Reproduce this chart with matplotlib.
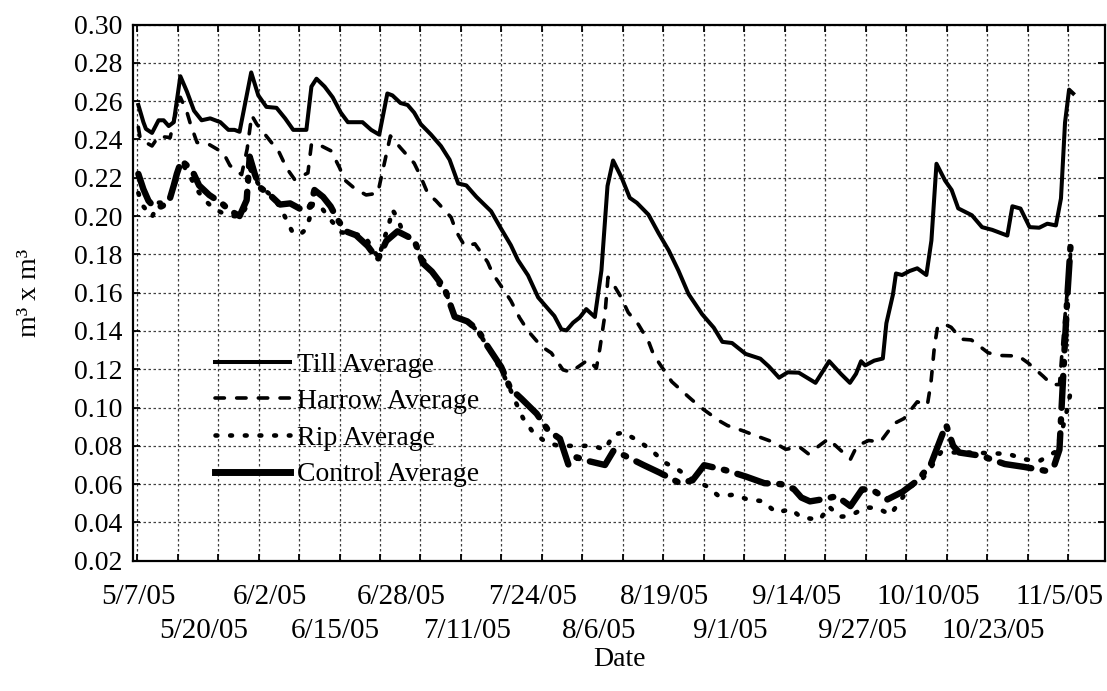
import matplotlib
matplotlib.use("Agg")
import matplotlib.pyplot as plt
from matplotlib.lines import Line2D
import numpy as np
import pandas as pd

# days after 5/7/05 and volumetric water content
till_day = [0, 1, 1.5, 2.7, 4, 5, 6, 7, 8.3, 9.6, 11, 12.5, 14.2, 16.2, 17.8, 19, 20,
            22.3, 23.7, 25.3, 27.3, 29, 30.6, 33.2, 34.2, 35.2, 36.8, 38.4, 40, 41.4,
            44.3, 46, 47.6, 49.2, 50.2, 51.8, 53.2, 54.5, 55.8, 57.8, 59.8, 61.5, 63.2,
            64.8, 66.8, 69.7, 71.6, 73.6, 75, 77, 79, 81, 82.2, 83.6, 84.6, 85.9, 87.2,
            88.5, 90.2, 91.5, 92.7, 93.8, 95.5, 97.1, 98.5, 100.8, 102.8, 104.8, 106.7,
            108.7, 111.4, 113.7, 115.4, 117.3, 120, 122.9, 124.6, 126.6, 128.3, 130.5,
            133.8, 136.5, 138.8, 140.6, 141.8, 142.8, 143.6, 145.4, 147.1, 147.8, 149.1,
            149.7, 150.9, 152.4, 153.9, 155.7, 156.7, 157.7, 159.4, 160.7, 162, 164.7,
            166.7, 168.7, 171.7, 172.7, 174.3, 176.1, 178, 179.6, 181.3, 182.3, 183.1,
            183.9, 184.7]
till_avg = [0.258, 0.249, 0.2455, 0.2434, 0.250, 0.250, 0.247, 0.249, 0.273, 0.265, 0.255,
            0.250, 0.251, 0.249, 0.245, 0.245, 0.244, 0.275, 0.263, 0.257, 0.2565, 0.251,
            0.245, 0.245, 0.2676, 0.2717, 0.2676, 0.262, 0.254, 0.249, 0.249, 0.245,
            0.2425, 0.264, 0.263, 0.259, 0.258, 0.254, 0.248, 0.2426, 0.2365, 0.2294,
            0.217, 0.216, 0.210, 0.2025, 0.1937, 0.1848, 0.177, 0.169, 0.1575, 0.1514,
            0.1478, 0.1408, 0.1403, 0.1443, 0.147, 0.1514, 0.1473, 0.1716, 0.2157, 0.229,
            0.220, 0.2095, 0.2069, 0.2007, 0.191, 0.182, 0.1716, 0.1593, 0.1487, 0.1417,
            0.1343, 0.1337, 0.128, 0.1255, 0.1214, 0.1156, 0.1184, 0.1182, 0.1129, 0.1242,
            0.1176, 0.1129, 0.1176, 0.1242, 0.122, 0.1245, 0.1256, 0.144, 0.159, 0.170,
            0.1692, 0.1713, 0.1727, 0.1692, 0.1872, 0.2273, 0.2185, 0.2136, 0.204, 0.2004,
            0.1942, 0.1928, 0.1898, 0.2051, 0.2039, 0.1942, 0.1939, 0.196, 0.1951, 0.2092,
            0.2488, 0.266, 0.264]

harrow_day = [0, 0.4, 2.7, 4, 6.3, 7, 8.3, 9.6, 10.3, 11.6, 13.9, 16.8, 18.1, 20.4, 21.5,
              22.4, 23.4, 26.3, 27.6, 29.3, 30.9, 33.5, 34.2, 35.5, 38.1, 39.8, 40.7, 42.7,
              45, 47.3, 49.8, 51.8, 54.5, 55.8, 57.2, 58.8, 61.8, 62.8, 64.5, 66.5, 69, 70,
              72.3, 73.6, 75.3, 77, 79.6, 81.6, 83.9, 85.6, 86.5, 88.9, 90.5, 91.2, 92.2,
              92.8, 93.8, 95.2, 96.8, 98.8, 100.8, 101.8, 103.8, 105.4, 108.7, 111, 114.7,
              116.4, 119.3, 122, 125.6, 127.9, 130.7, 132.4, 135, 136.4, 137.4, 140.7, 142,
              144.3, 146.6, 149.3, 151.3, 153.9, 155.9, 156.6, 157.3, 157.9, 159.3, 160.6,
              162.6, 164.6, 167.9, 170.2, 173.9, 175.8, 178.8, 180.5, 182, 183, 184.2]
harrow_avg = [0.2464, 0.240, 0.2366, 0.2416, 0.241, 0.250, 0.262, 0.2543, 0.248, 0.2384,
              0.2375, 0.233, 0.2264, 0.2216, 0.235, 0.2526, 0.248, 0.2384, 0.2345, 0.225,
              0.219, 0.2225, 0.2375, 0.2375, 0.234, 0.225, 0.219, 0.2145, 0.211, 0.2119,
              0.2418, 0.2356, 0.2276, 0.2205, 0.2117, 0.208, 0.1993, 0.192, 0.1843, 0.1855,
              0.176, 0.170, 0.161, 0.1558, 0.147, 0.140, 0.132, 0.1285, 0.1197, 0.1184,
              0.1205, 0.125, 0.1205, 0.131, 0.1487, 0.168, 0.1646, 0.1584, 0.1496, 0.1434,
              0.1346, 0.1276, 0.1197, 0.1135, 0.1056, 0.1003, 0.0932, 0.0906, 0.088, 0.0853,
              0.0818, 0.0782, 0.0793, 0.0758, 0.081, 0.0837, 0.081, 0.073, 0.080, 0.0828,
              0.082, 0.0916, 0.0943, 0.103, 0.1013, 0.1128, 0.132, 0.1419, 0.1436, 0.1419,
              0.1357, 0.1353, 0.1286, 0.1272, 0.1269, 0.1233, 0.1163, 0.112, 0.112, 0.145,
              0.180]

rip_day = [0, 1, 2.7, 4, 5.7, 7, 8.3, 10, 11.5, 12.9, 14.8, 16.3, 17.8, 20.1, 21.4, 22, 23,
           24, 25.7, 27.3, 29, 30.3, 31.8, 33.2, 33.9, 34.5, 36, 38, 40.1, 42.4, 44.7, 46,
           47.5, 48.5, 49.5, 50.2, 51.2, 52.5, 54.5, 56, 57.8, 58.8, 60.5, 62.5, 65.1, 67,
           69, 72, 73.4, 74.7, 76, 78, 80.6, 83, 85, 87.9, 89.9, 92.2, 93.9, 95.9, 98.8,
           101.5, 103.8, 106.8, 109.1, 112.4, 114.7, 117.7, 120.4, 123.4, 126, 129, 131,
           134.7, 136.4, 138.5, 140, 141.7, 143.7, 146, 148.6, 151, 152.3, 154.9, 156.6,
           158.6, 162, 165, 168.5, 171.9, 175, 178, 181.1, 182.2, 183.2, 184.2]
rip_avg = [0.212, 0.205, 0.1995, 0.207, 0.207, 0.214, 0.2287, 0.222, 0.214, 0.209, 0.204,
           0.202, 0.2004, 0.1995, 0.205, 0.225, 0.220, 0.2154, 0.212, 0.2074, 0.1995, 0.1924,
           0.190, 0.1933, 0.1995, 0.2066, 0.205, 0.198, 0.1915, 0.1906, 0.1897, 0.184, 0.178,
           0.1876, 0.1955, 0.2033, 0.199, 0.190, 0.1876, 0.178, 0.1727, 0.1658, 0.162, 0.148,
           0.1448, 0.140, 0.132, 0.118, 0.110, 0.102, 0.0945, 0.087, 0.0818, 0.080, 0.080,
           0.080, 0.080, 0.078, 0.086, 0.0869, 0.0826, 0.0775, 0.0716, 0.0673, 0.063, 0.0588,
           0.0537, 0.0545, 0.052, 0.0511, 0.0452, 0.0469, 0.0425, 0.0415, 0.0485, 0.043,
           0.0432, 0.045, 0.0478, 0.0476, 0.044, 0.053, 0.0582, 0.0626, 0.0687, 0.0767,
           0.0765, 0.0765, 0.0761, 0.0758, 0.073, 0.072, 0.0767, 0.085, 0.095, 0.108]

control_day = [0, 1, 2, 3, 4.5, 6, 7, 7.6, 8.5, 10.6, 12, 14, 16.5, 18, 20, 21.4, 22, 23, 24,
               26, 28, 30, 32.5, 34, 34.8, 36.5, 38, 39.4, 41, 43, 45.3, 47.3, 49, 51.2,
               54.5, 56.2, 58, 60.5, 62.5, 65, 67.1, 69, 71.7, 73.5, 75.7, 78.7, 81, 83.3,
               85, 86.6, 89, 92.2, 93.9, 96, 99.8, 103, 107, 109.5, 111.8, 116, 120, 123.7,
               127, 129.5, 131, 132.7, 135, 138, 140.7, 143, 145, 148, 151, 154, 156.6,
               159.6, 161, 162.2, 166.5, 171.2, 175, 179.2, 181, 182, 183, 183.6, 184.2]
control_avg = [0.222, 0.214, 0.208, 0.205, 0.205, 0.207, 0.216, 0.222, 0.229, 0.224, 0.216,
               0.211, 0.2066, 0.203, 0.200, 0.2083, 0.231, 0.222, 0.215, 0.211, 0.206,
               0.2066, 0.203, 0.205, 0.2136, 0.210, 0.205, 0.198, 0.192, 0.190, 0.1844,
               0.1773, 0.187, 0.192, 0.1876, 0.1754, 0.171, 0.1623, 0.1474, 0.145, 0.1404,
               0.132, 0.1212, 0.110, 0.1046, 0.0968, 0.088, 0.0837, 0.070, 0.074, 0.072,
               0.070, 0.0775, 0.075, 0.070, 0.066, 0.0605, 0.062, 0.0699, 0.0673, 0.064,
               0.0605, 0.060, 0.0575, 0.053, 0.051, 0.052, 0.0537, 0.0485, 0.0573, 0.057,
               0.052, 0.056, 0.062, 0.0705, 0.091, 0.080, 0.0765, 0.0748, 0.0705, 0.069,
               0.067, 0.070, 0.078, 0.130, 0.160, 0.185]

date_labels = ["5/7/05", "5/20/05", "6/2/05", "6/15/05", "6/28/05", "7/11/05", "7/24/05",
               "8/6/05", "8/19/05", "9/1/05", "9/14/05", "9/27/05", "10/10/05", "10/23/05",
               "11/5/05"]

plt.rcParams["font.family"] = ["Liberation Serif", "DejaVu Serif"]
plt.rcParams["font.size"] = 20

till_style = dict(color="black", lw=2.9)
harrow_style = dict(color="black", lw=2.6, linestyle=(0, (2.6, 3.4)), dash_capstyle="round")
rip_style = dict(color="black", lw=3.3, linestyle=(0, (0.4, 2.8)), dash_capstyle="round")
control_style = dict(color="black", lw=4.6, linestyle=(0, (5, 1.8, 0.4, 1.8)),
                     dash_capstyle="round")

fig = plt.figure(figsize=(11.07, 6.91), dpi=100)
ax = fig.add_axes([0.1204, 0.1885, 0.8778, 0.776])

ax.plot(till_day, till_avg, solid_joinstyle="round", **till_style)
ax.plot(harrow_day, harrow_avg, **harrow_style)
ax.plot(rip_day, rip_avg, **rip_style)
ax.plot(control_day, control_avg, **control_style)

start = pd.Timestamp("2005-05-07")
label_days = [(d - start).days for d in pd.to_datetime(date_labels, format="%m/%d/%y")]

ax.set_xlim(-1, 191)
ax.set_ylim(0.02, 0.30)
ax.set_xticks(np.arange(-0.25, 191, 8))
ax.set_xticklabels([])
# first row of date labels on the main axis, second row on a secondary axis
ax.set_xticks(label_days[0::2], minor=True)
ax.set_xticklabels(date_labels[0::2], minor=True)
ax.set_yticks(np.arange(0.02, 0.301, 0.02))
ax.yaxis.set_major_formatter(plt.FormatStrFormatter("%.2f"))

ax.tick_params(which="major", direction="in", length=5, width=1.3, top=True, right=True,
               labelsize=20, pad=8)
ax.tick_params(axis="x", which="minor", length=0, labelsize=21, pad=16.5)
ax.grid(which="major", color="0.25", lw=0.9, linestyle=(0, (2, 2)))
for sp in ax.spines.values():
    sp.set_linewidth(1.6)

row2 = ax.secondary_xaxis("bottom")
row2.set_xticks(label_days[1::2])
row2.set_xticklabels(date_labels[1::2])
row2.tick_params(length=0, labelsize=21, pad=41.5)
row2.spines["bottom"].set_visible(False)

ax.set_xlabel("Date", fontsize=20)
ax.xaxis.set_label_coords(0.5, -0.16)
ax.set_ylabel("m³ x m³", fontsize=20)
ax.yaxis.set_label_coords(-0.094, 0.5)

handles = [
    Line2D([], [], **till_style),
    Line2D([], [], **harrow_style),
    Line2D([], [], **rip_style),
    Line2D([], [], color="black", lw=5),
]
names = ["Till Average", "Harrow Average", "Rip Average", "Control Average"]
ax.legend(handles, names, loc="upper left", bbox_to_anchor=(0.084, 0.389), frameon=False,
          fontsize=20, handlelength=2.7, handletextpad=0.25, labelspacing=0.4,
          borderpad=0, borderaxespad=0)

fig.savefig("out.png", dpi=100)
